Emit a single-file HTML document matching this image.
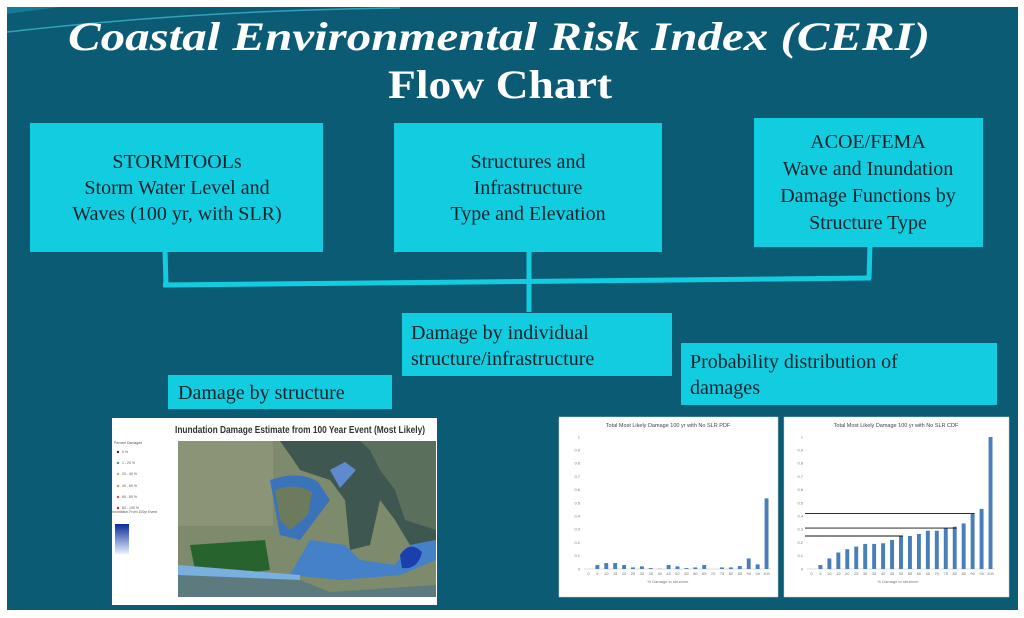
<!DOCTYPE html>
<html><head><meta charset="utf-8"><style>
html,body{margin:0;padding:0;background:#fff}
svg{display:block}
.bx{fill:#12cde0}
.t{font-family:"Liberation Serif",serif;fill:#10222a;font-size:20px}
.ax{font-family:"Liberation Sans",sans-serif;font-size:4px;fill:#777}
</style></head><body>
<svg id="s" width="1024" height="618" viewBox="0 0 1024 618" xmlns="http://www.w3.org/2000/svg">
<rect x="0" y="0" width="1024" height="618" fill="#fff"/>
<rect x="7" y="7" width="1011" height="603" fill="#0c5b75"/>
<path d="M7 32 Q200 10 400 8" stroke="#3bb5c9" stroke-width="1.5" fill="none" opacity="0.8"/>
<path d="M7 14 L60 7 L7 7Z" fill="#1a8aa3" opacity="0.7"/>
<text x="499" y="50" text-anchor="middle" font-family="Liberation Serif,serif" font-style="italic" font-weight="bold" font-size="40" fill="#fff" textLength="862" lengthAdjust="spacingAndGlyphs">Coastal Environmental Risk Index (CERI)</text>
<text x="500" y="98" text-anchor="middle" font-family="Liberation Serif,serif" font-weight="bold" font-size="40" fill="#fff" textLength="224" lengthAdjust="spacingAndGlyphs">Flow Chart</text>

<!-- connectors -->
<g stroke="#12cde0" stroke-width="5" fill="none">
<line x1="165" y1="250" x2="166" y2="285"/>
<line x1="529" y1="250" x2="529" y2="312"/>
<line x1="870" y1="245" x2="869" y2="279"/>
<line x1="163" y1="285" x2="871" y2="278"/>
</g>

<g>
<rect class="bx" x="30" y="123" width="293" height="129"/>
<text class="t" x="177" y="168" text-anchor="middle">STORMTOOLs</text>
<text class="t" x="177" y="194" text-anchor="middle">Storm Water Level and</text>
<text class="t" x="177" y="220" text-anchor="middle">Waves (100 yr, with SLR)</text>
</g>
<g>
<rect class="bx" x="394" y="123" width="268" height="129"/>
<text class="t" x="528" y="168" text-anchor="middle">Structures and</text>
<text class="t" x="528" y="194" text-anchor="middle">Infrastructure</text>
<text class="t" x="528" y="220" text-anchor="middle">Type and Elevation</text>
</g>
<g>
<rect class="bx" x="754" y="118" width="229" height="129"/>
<text class="t" x="868" y="148" text-anchor="middle">ACOE/FEMA</text>
<text class="t" x="868" y="175" text-anchor="middle">Wave and Inundation</text>
<text class="t" x="868" y="202" text-anchor="middle">Damage Functions by</text>
<text class="t" x="868" y="229" text-anchor="middle">Structure Type</text>
</g>
<g>
<rect class="bx" x="402" y="313" width="270" height="63"/>
<text class="t" x="411" y="339">Damage by individual</text>
<text class="t" x="411" y="365">structure/infrastructure</text>
</g>
<g>
<rect class="bx" x="681" y="343" width="316" height="62"/>
<text class="t" x="690" y="368">Probability distribution of</text>
<text class="t" x="690" y="394">damages</text>
</g>
<g>
<rect class="bx" x="168" y="375" width="224" height="34"/>
<text class="t" x="178" y="399">Damage by structure</text>
</g>

<!-- map -->
<g>
<rect x="112" y="418" width="325" height="187" fill="#fff"/>
<text x="300" y="433" text-anchor="middle" font-family="Liberation Sans,sans-serif" font-weight="bold" font-size="10" fill="#333" textLength="250" lengthAdjust="spacingAndGlyphs">Inundation Damage Estimate from 100 Year Event (Most Likely)</text>
<g font-family="Liberation Sans,sans-serif" font-size="3.5" fill="#555">
<text x="114" y="444">Percent Damaged</text>
<circle cx="118" cy="452" r="1.2" fill="#234"/><text x="122" y="453">0 %</text>
<circle cx="118" cy="463" r="1.2" fill="#3a6"/><text x="122" y="464">1 - 20 %</text>
<circle cx="118" cy="474" r="1.2" fill="#bb4"/><text x="122" y="475">20 - 40 %</text>
<circle cx="118" cy="486" r="1.2" fill="#c93"/><text x="122" y="487">40 - 60 %</text>
<circle cx="118" cy="497" r="1.2" fill="#c53"/><text x="122" y="498">60 - 80 %</text>
<circle cx="118" cy="508" r="1.2" fill="#c22"/><text x="122" y="509">80 - 100 %</text>
<text x="112" y="513">Inundation From 100yr Event</text>
</g>
<defs><linearGradient id="lg" x1="0" y1="0" x2="0" y2="1"><stop offset="0" stop-color="#0a2a9a"/><stop offset="1" stop-color="#e8f2ff"/></linearGradient>
<linearGradient id="gw" x1="0" y1="0" x2="1" y2="0"><stop offset="0" stop-color="#2a4a9a"/><stop offset="1" stop-color="#4a88d8"/></linearGradient></defs>
<rect x="115" y="524" width="14" height="30" fill="url(#lg)"/>
<rect x="178" y="441" width="258" height="156" fill="#7d8a6c"/>
<rect x="178" y="441" width="95" height="85" fill="#8c9478"/>
<path d="M280 441 L436 441 L436 540 L410 545 L395 520 L380 500 L370 545 L350 550 L345 500 L330 480 L300 470 L290 455Z" fill="#3e5750"/>
<path d="M360 441 L436 441 L436 530 L405 520 L395 490 L380 470 L370 450Z" fill="#5a6f5c"/>
<path d="M270 480 Q300 470 318 482 L330 500 L315 520 L300 540 L280 535 Z" fill="#2f6fc8" opacity="0.85"/>
<path d="M275 490 Q295 482 312 492 L308 515 L290 530 L280 520Z" fill="#6c7b5e"/>
<path d="M310 540 L345 545 L360 560 L395 565 L410 545 L436 540 L436 560 L400 575 L340 580 L290 575Z" fill="#3a7fd8" opacity="0.85"/>
<path d="M400 555 Q410 540 422 552 Q418 570 402 568Z" fill="#1b3fae"/>
<path d="M190 545 L265 540 L270 570 L230 575 L195 570Z" fill="#27642d"/>
<path d="M178 570 L300 580 L330 592 L436 585 L436 597 L178 597Z" fill="#5d7a7f"/>
<path d="M178 565 L300 575 L300 580 L178 575Z" fill="#7ab0e0"/>
<path d="M330 470 L345 462 L356 470 L340 488Z" fill="#5e8bd0"/>
</g>

<!-- charts -->
<g id="pdf">
<rect x="559" y="417" width="219" height="180" fill="#fff" stroke="#ccc" stroke-width="0.5"/>
<text x="668" y="427" text-anchor="middle" font-family="Liberation Sans,sans-serif" font-size="5.5" fill="#444">Total Most Likely Damage 100 yr with No SLR PDF</text>
<text x="668" y="583" text-anchor="middle" class="ax" font-size="4.5">% Damage to structure</text>
</g>
<g id="cdf">
<rect x="784" y="417" width="225" height="180" fill="#fff" stroke="#ccc" stroke-width="0.5"/>
<text x="896" y="427" text-anchor="middle" font-family="Liberation Sans,sans-serif" font-size="5.5" fill="#444">Total Most Likely Damage 100 yr with No SLR CDF</text>
<text x="898" y="583" text-anchor="middle" class="ax" font-size="4.5">% Damage to structure</text>
</g>
</svg>
<script>
const categories=[0,5,10,15,20,25,30,35,40,45,50,55,60,65,70,75,80,85,90,95,100];
const pdfValues=[0,0.03,0.045,0.045,0.03,0.012,0.02,0.007,0.002,0.03,0.02,0.007,0.012,0.03,0,0.012,0.012,0.022,0.08,0.035,0.535];
const cdfValues=[0,0.03,0.08,0.125,0.15,0.17,0.19,0.19,0.195,0.22,0.25,0.25,0.265,0.29,0.29,0.31,0.32,0.345,0.42,0.455,1];
const yTicks=[0,0.1,0.2,0.3,0.4,0.5,0.6,0.7,0.8,0.9,1];
const cdfRefLines=[{v:0.42,cat:90},{v:0.31,cat:80},{v:0.25,cat:50}];
const NS='http://www.w3.org/2000/svg';
function mk(tag,attrs,parent){const e=document.createElementNS(NS,tag);for(const k in attrs)e.setAttribute(k,attrs[k]);parent.appendChild(e);return e;}
function draw(gid,vals,x0,x1,y0,y1,refs){
  const g=document.getElementById(gid);
  const n=categories.length, step=(x1-x0)/n;
  const xs=i=>x0+step*(i+0.5);
  const ys=v=>y0-(y0-y1)*v;
  const ax=mk('line',{x1:x0,y1:y0,x2:x1,y2:y0,stroke:'#bbb','stroke-width':0.5},g);
  
  
  yTicks.forEach(t=>{const tx=mk('text',{x:x0-4,y:ys(t)+1.3,'text-anchor':'end','class':'ax'},g);tx.textContent=t;
    
    });
  categories.forEach((c,i)=>{
    const tx=mk('text',{x:xs(i),y:y0+6,'text-anchor':'middle','class':'ax'},g);tx.textContent=c;
    
    
    const v=vals[i];
    const b=mk('rect',{x:xs(i)-step*0.22,y:ys(v),width:step*0.44,height:Math.max(0,y0-ys(v)),fill:'#4a7ebb'},g);
    
    
  });
  (refs||[]).forEach(r=>{const i=categories.indexOf(r.cat);
    const l=mk('line',{x1:x0-2,y1:ys(r.v),x2:xs(i)+step*0.22,y2:ys(r.v),stroke:'#111','stroke-width':0.9},g);
    
    });
}
draw('pdf',pdfValues,584,771,569,437,null);
draw('cdf',cdfValues,807,995,569,437,cdfRefLines);
</script>
</body></html>
